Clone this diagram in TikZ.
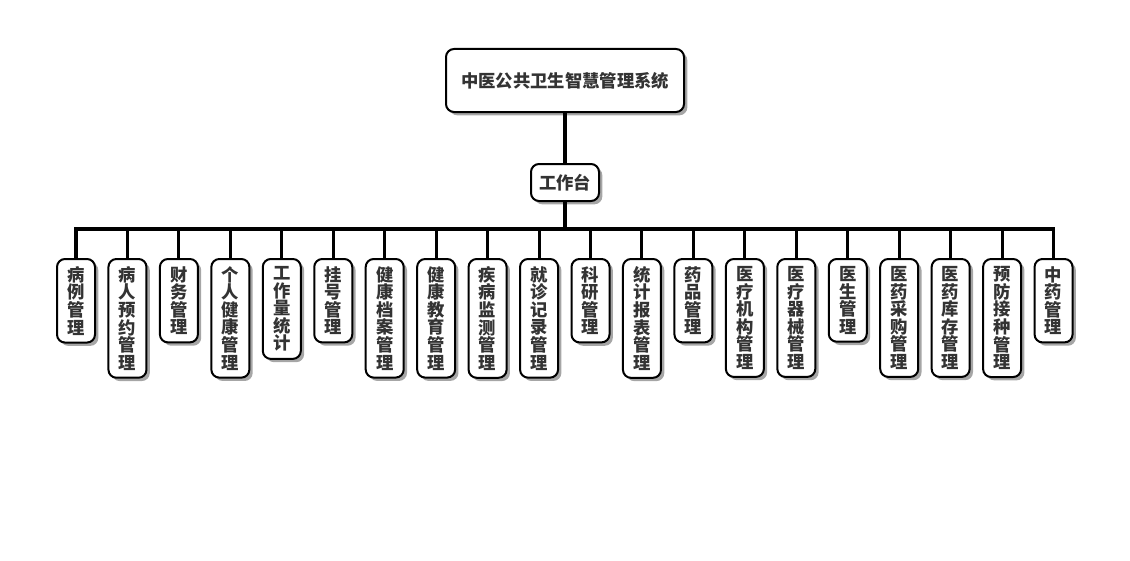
\documentclass[tikz,border=0pt]{standalone}
\usepackage{fontspec}
\setmainfont{Noto Sans CJK SC}
\usetikzlibrary{shadows}
\tikzset{
  box/.style={draw=black, line width=1.5pt, rounded corners=6pt, fill=white,
    text=black!80, font=\bfseries\fontsize{13}{13.2}\selectfont,
    drop shadow={shadow xshift=2.5pt, shadow yshift=-2.5pt, opacity=0.35, fill=black}},
  leafbox/.style={box, align=center, minimum width=28.5pt, inner xsep=0pt, inner ysep=5.5pt, anchor=north},
  conn/.style={line width=2.3pt}
}
\begin{document}
\begin{tikzpicture}[x=0.75pt, y=-0.75pt]
\useasboundingbox (0,0) rectangle (1130,560);
\node[box, minimum width=178.5pt, minimum height=47.25pt] (root) at (565,80.5) {中医公共卫生智慧管理系统};
\node[box, minimum width=51pt, minimum height=27.75pt, inner sep=0pt] (wt) at (565,182.5) {工作台};
\coordinate (bus) at (565,229);
\draw[conn] (root.south) -- (wt.north);
\draw[conn] (wt.south) -- (bus);
\foreach \t [count=\i from 0] in {
  {病\\例\\管\\理},
  {病\\人\\预\\约\\管\\理},
  {财\\务\\管\\理},
  {个\\人\\健\\康\\管\\理},
  {工\\作\\量\\统\\计},
  {挂\\号\\管\\理},
  {健\\康\\档\\案\\管\\理},
  {健\\康\\教\\育\\管\\理},
  {疾\\病\\监\\测\\管\\理},
  {就\\诊\\记\\录\\管\\理},
  {科\\研\\管\\理},
  {统\\计\\报\\表\\管\\理},
  {药\\品\\管\\理},
  {医\\疗\\机\\构\\管\\理},
  {医\\疗\\器\\械\\管\\理},
  {医\\生\\管\\理},
  {医\\药\\采\\购\\管\\理},
  {医\\药\\库\\存\\管\\理},
  {预\\防\\接\\种\\管\\理},
  {中\\药\\管\\理}} {
  \node[leafbox] (lf\i) at ({76+51.45*\i},258) {\t};
  \draw[conn] (bus) -| (lf\i.north);
}
\end{tikzpicture}
\end{document}
